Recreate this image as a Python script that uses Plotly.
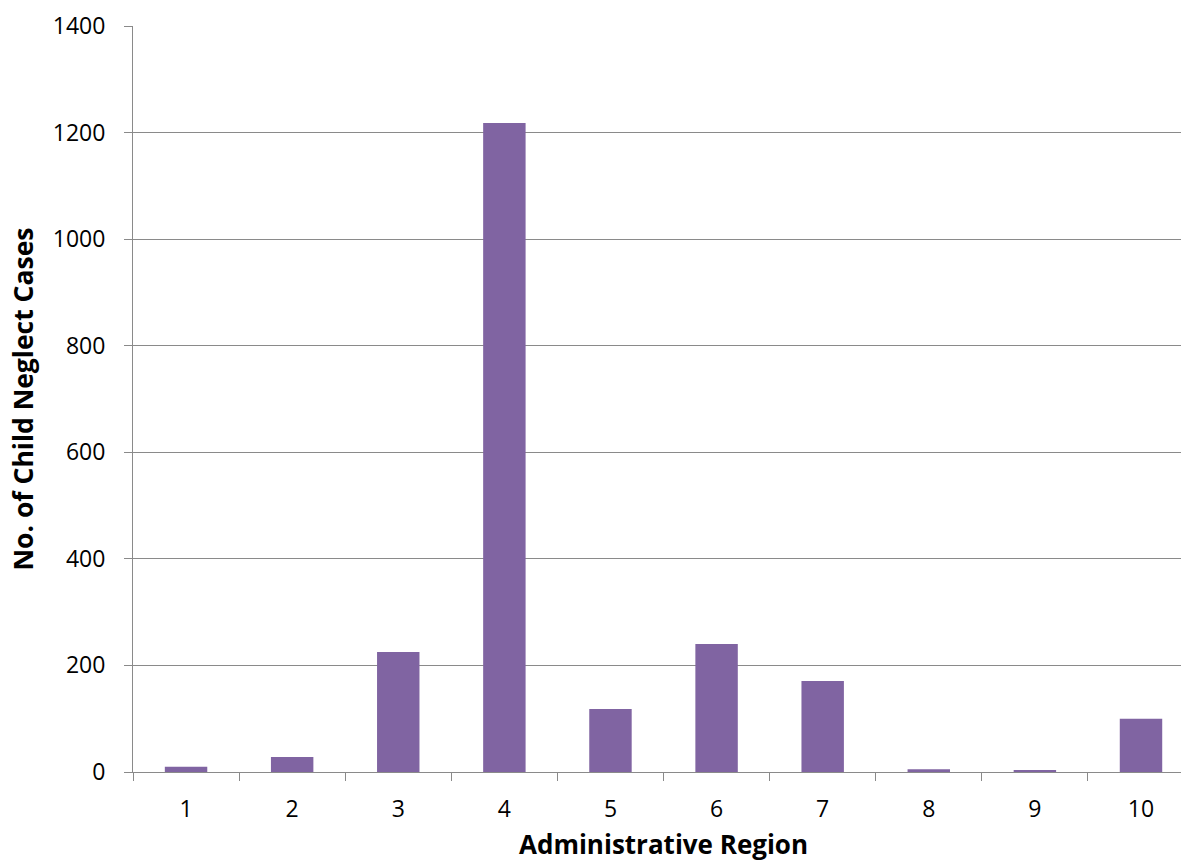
import plotly.graph_objects as go

regions = ["1", "2", "3", "4", "5", "6", "7", "8", "9", "10"]
cases = [10, 28, 225, 1218, 118, 240, 171, 5, 3, 100]
y_ticks = [0, 200, 400, 600, 800, 1000, 1200, 1400]

fig = go.Figure(
    go.Bar(
        x=regions,
        y=cases,
        marker=dict(color="#8064A2", line=dict(width=0)),
        width=0.4,
    )
)

fig.update_layout(
    width=1181,
    height=866,
    margin=dict(l=133, r=0, t=26, b=94, autoexpand=False),
    plot_bgcolor="white",
    paper_bgcolor="white",
    showlegend=False,
    font=dict(family="Open Sans", color="#000000"),
    bargap=0.6,
)

fig.update_xaxes(
    type="category",
    range=[-0.5, 9.377],
    tickson="boundaries",
    ticks="outside",
    ticklen=8,
    tickcolor="#8a8a8a",
    tickwidth=1,
    showline=True,
    linecolor="#8a8a8a",
    linewidth=1,
    showgrid=False,
    automargin=False,
    tickfont=dict(size=23, family="Open Sans"),
    ticklabelstandoff=16,
)

fig.add_annotation(
    text="<b>Administrative Region</b>",
    xref="x",
    x=4.5,
    yref="paper",
    y=0,
    yanchor="top",
    yshift=-52,
    showarrow=False,
    font=dict(size=26, family="Open Sans", color="#000000"),
)

fig.update_yaxes(
    range=[0, 1400],
    tickvals=y_ticks,
    ticktext=[str(v) for v in y_ticks],
    ticks="outside",
    ticklen=8,
    tickcolor="#8a8a8a",
    showline=True,
    linecolor="#8a8a8a",
    linewidth=1,
    showgrid=True,
    gridcolor="#8a8a8a",
    gridwidth=1,
    zeroline=False,
    automargin=False,
    tickfont=dict(size=23, family="Open Sans"),
    ticklabelstandoff=14,
    title=dict(text="<b>No. of Child Neglect Cases</b>", font=dict(size=26.5, family="Open Sans"), standoff=11),
)

fig.write_html(
    "out.html",
    config={"displayModeBar": False},
    post_script="document.body.style.margin='0';document.body.style.overflow='hidden';",
)
